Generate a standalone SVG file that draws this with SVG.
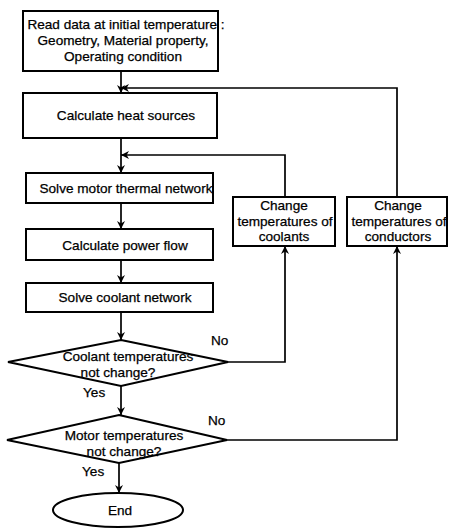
<svg xmlns="http://www.w3.org/2000/svg" width="449" height="529" viewBox="0 0 449 529">
<defs>
<marker id="ah" viewBox="0 0 10 10" refX="10" refY="5" markerWidth="8" markerHeight="8" orient="auto" markerUnits="userSpaceOnUse">
<path d="M0,0 L10,5 L0,10 L3,5 z" fill="#000"/>
</marker>
<style>
.b{fill:#fff;stroke:#000;stroke-width:2}
.t{font-family:"Liberation Sans",Arial,sans-serif;font-size:13.6px;fill:#000;stroke:#000;stroke-width:0.25;text-anchor:middle}
.l{font-family:"Liberation Sans",Arial,sans-serif;font-size:13.6px;fill:#000;stroke:#000;stroke-width:0.25}
.c{fill:none;stroke:#000;stroke-width:1.7}
</style>
</defs>
<rect width="449" height="529" fill="#fff"/>
<g id="connectors">
<path class="c" d="M121,72 V93" marker-end="url(#ah)"/>
<path class="c" d="M397,197 V88 H121" marker-end="url(#ah)"/>
<path class="c" d="M121,138 V173" marker-end="url(#ah)"/>
<path class="c" d="M285,197 V155 H121" marker-end="url(#ah)"/>
<path class="c" d="M121,203 V229" marker-end="url(#ah)"/>
<path class="c" d="M121,260 V283" marker-end="url(#ah)"/>
<path class="c" d="M121,312 V340" marker-end="url(#ah)"/>
<path class="c" d="M228,362 H285 V246" marker-end="url(#ah)"/>
<path class="c" d="M121,386 V415" marker-end="url(#ah)"/>
<path class="c" d="M227,440 H397 V246" marker-end="url(#ah)"/>
<path class="c" d="M119,463 V493" marker-end="url(#ah)"/>
<text class="l" x="211" y="345">No</text>
<text class="l" x="83" y="397">Yes</text>
<text class="l" x="208" y="425">No</text>
<text class="l" x="82" y="476">Yes</text>
</g>
<g id="read">
<rect class="b" x="23" y="11" width="195" height="60"/>
<text class="t" x="126" y="29">Read data at initial temperature :</text>
<text class="t" x="123" y="45">Geometry, Material property,</text>
<text class="t" x="123" y="61">Operating condition</text>
</g>
<g id="heat">
<rect class="b" x="23" y="93" width="194" height="45"/>
<text class="t" x="126" y="120">Calculate heat sources</text>
</g>
<g id="motor">
<rect class="b" x="26" y="173" width="187" height="30"/>
<text class="t" x="126" y="193">Solve motor thermal network</text>
</g>
<g id="power">
<rect class="b" x="26" y="229" width="187" height="31"/>
<text class="t" x="125" y="250">Calculate power flow</text>
</g>
<g id="coolantnet">
<rect class="b" x="26" y="283" width="187" height="29"/>
<text class="t" x="125" y="302">Solve coolant network</text>
</g>
<g id="coolants">
<rect class="b" x="233" y="197" width="102" height="49"/>
<text class="t" x="284" y="210">Change</text>
<text class="t" x="285" y="226">temperatures of</text>
<text class="t" x="284" y="241">coolants</text>
</g>
<g id="conductors">
<rect class="b" x="347" y="197" width="100" height="49"/>
<text class="t" x="398" y="210">Change</text>
<text class="t" x="399" y="226">temperatures of</text>
<text class="t" x="398" y="241">conductors</text>
</g>
<g id="d1">
<polygon class="b" points="121,340 228,362 121,386 8,362"/>
<text class="t" x="128" y="361">Coolant temperatures</text>
<text class="t" x="118" y="377">not change?</text>
</g>
<g id="d2">
<polygon class="b" points="119,415 227,440 119,463 7,440"/>
<text class="t" x="124" y="440">Motor temperatures</text>
<text class="t" x="124" y="456">not change?</text>
</g>
<g id="end">
<ellipse class="b" cx="118" cy="510" rx="65" ry="17"/>
<text class="t" x="120" y="515">End</text>
</g>
</svg>
